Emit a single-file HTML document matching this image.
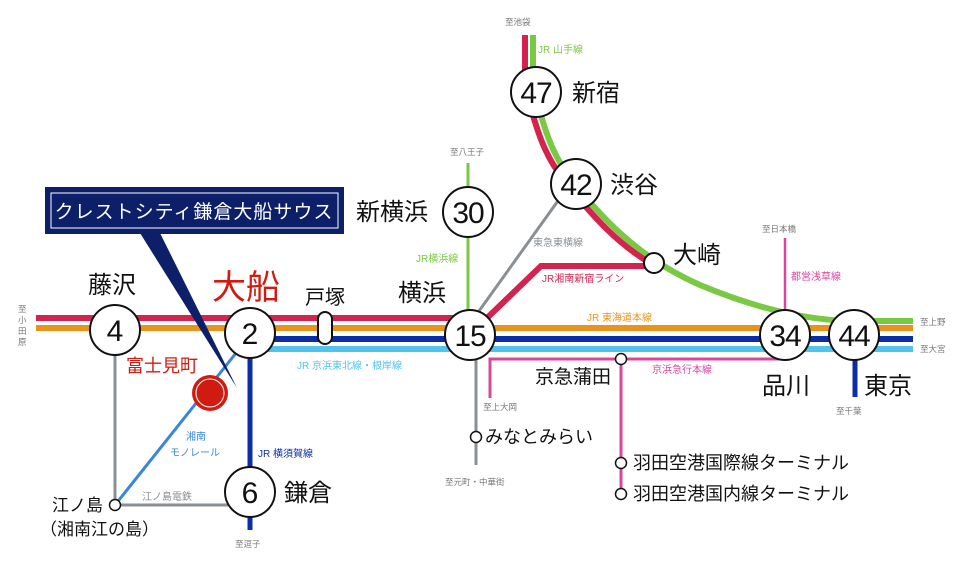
<!DOCTYPE html>
<html><head><meta charset="utf-8"><style>
html,body{margin:0;padding:0;background:#fff;}
svg{display:block;}
text{font-family:"Liberation Sans","Noto Sans CJK JP",sans-serif;}
.st{font-family:"Liberation Sans","Noto Sans CJK JP",sans-serif;}
</style></head><body>
<svg width="980" height="562" viewBox="0 0 980 562" xmlns="http://www.w3.org/2000/svg">
<rect width="980" height="562" fill="#fff"/>
<g fill="none" stroke-linecap="butt">
<path d="M533,35 L533,70 M540,112 C548,140 556,160 572,180 C610,230 650,263 700,285 C760,310 810,320 850,321 L913,321" stroke="#7ac943" stroke-width="6"/>
<path d="M525,35 L525,70 M532,112 C540,140 548,160 564,180 C595,220 620,245 650,263" stroke="#d4234f" stroke-width="6"/>
<path d="M650,266 L541,266 L487,318" stroke="#d4234f" stroke-width="6"/>
<path d="M36,318 L470,318" stroke="#d4234f" stroke-width="6"/>
<path d="M36,328 L913,328" stroke="#e8931c" stroke-width="6"/>
<path d="M252,339 L913,339" stroke="#0a2ea8" stroke-width="6"/>
<path d="M252,349 L913,349" stroke="#52c3ea" stroke-width="6"/>
<path d="M468,163 L468,315" stroke="#7ac943" stroke-width="3"/>
<path d="M560,198 L474,318 L476,318 L476,465" stroke="#8a8f93" stroke-width="3"/>
<path d="M490,398 L490,359 L785,359" stroke="#d9479b" stroke-width="3"/>
<path d="M621,359 L621,494" stroke="#d9479b" stroke-width="3"/>
<path d="M785,238 L785,312" stroke="#d9479b" stroke-width="2.5"/>
<path d="M855,358 L855,397" stroke="#0a2ea8" stroke-width="5"/>
<path d="M250,345 L250,530" stroke="#0a2ea8" stroke-width="5"/>
<path d="M115,345 L115,505 L228,505" stroke="#8a8f93" stroke-width="3"/>
<path d="M115,505 L240,348" stroke="#3a86d8" stroke-width="3"/>
</g>
<polygon points="140,233 160,233 237,388" fill="#0e1f6a"/>
<rect x="45" y="187" width="299" height="47" fill="#0e1f6a"/>
<rect x="51" y="193" width="287" height="35" fill="none" stroke="#fff" stroke-width="1"/>
<text x="194" y="218" font-size="19" fill="#fff" text-anchor="middle" class="st" letter-spacing="1">クレストシティ鎌倉大船サウス</text>
<g fill="#fff" stroke="#111" stroke-width="2">
<circle cx="115" cy="330" r="25"/>
<circle cx="250" cy="333" r="25"/>
<circle cx="470" cy="335" r="25"/>
<circle cx="785" cy="335" r="25"/>
<circle cx="854" cy="335" r="25"/>
<circle cx="536" cy="92" r="25"/>
<circle cx="576" cy="184" r="25"/>
<circle cx="468" cy="212" r="25"/>
<circle cx="250" cy="492" r="25"/>
<rect x="318" y="312" width="14" height="32" rx="7"/>
<circle cx="654" cy="263" r="10"/>
<circle cx="621" cy="359" r="5.5" stroke-width="1.5"/>
<circle cx="621" cy="463" r="5.5" stroke-width="1.5"/>
<circle cx="621" cy="494" r="5.5" stroke-width="1.5"/>
<circle cx="476" cy="437" r="5.5" stroke-width="1.5"/>
<circle cx="115" cy="505" r="5.5" stroke-width="1.5"/>
</g>
<circle cx="210" cy="393" r="18" fill="#d01c10"/>
<circle cx="210" cy="393" r="14" fill="none" stroke="#fff" stroke-width="1"/>
<g font-size="30" fill="#111" text-anchor="middle" style="font-family:'Liberation Sans Narrow','Liberation Sans',sans-serif">
<text x="115" y="341">4</text><text x="250" y="344">2</text><text x="470" y="346" letter-spacing="-1">15</text>
<text x="785" y="346" letter-spacing="-1">34</text><text x="854" y="346" letter-spacing="-1">44</text>
<text x="536" y="103" letter-spacing="-1">47</text><text x="576" y="195" letter-spacing="-1">42</text>
<text x="468" y="223" letter-spacing="-1">30</text><text x="250" y="503">6</text>
</g>
<g font-size="24" fill="#111" class="st">
<text x="88" y="293">藤沢</text>
<text x="305" y="304" font-size="20">戸塚</text>
<text x="398" y="301">横浜</text>
<text x="356" y="220">新横浜</text>
<text x="572" y="101">新宿</text>
<text x="610" y="193">渋谷</text>
<text x="673" y="263">大崎</text>
<text x="762" y="394">品川</text>
<text x="864" y="394">東京</text>
<text x="535" y="383" font-size="19">京急蒲田</text>
<text x="485" y="443" font-size="18">みなとみらい</text>
<text x="633" y="469" font-size="18">羽田空港国際線ターミナル</text>
<text x="633" y="500" font-size="18">羽田空港国内線ターミナル</text>
<text x="284" y="501">鎌倉</text>
<text x="52" y="511" font-size="17">江ノ島</text>
<text x="40" y="535" font-size="17">（湘南江の島）</text>
<text x="212" y="299" font-size="34" fill="#d01c10">大船</text>
<text x="126" y="372" font-size="18" fill="#d01c10">富士見町</text>
</g>
<g font-size="10" class="st">
<text x="538" y="53" fill="#7ac943">JR 山手線</text>
<text x="416" y="262" fill="#7ac943">JR横浜線</text>
<text x="533" y="246" fill="#8a8f93">東急東横線</text>
<text x="542" y="282" fill="#d4234f">JR湘南新宿ライン</text>
<text x="587" y="321" fill="#e8931c">JR 東海道本線</text>
<text x="297" y="369" fill="#52c3ea">JR 京浜東北線・根岸線</text>
<text x="652" y="373" fill="#d9479b">京浜急行本線</text>
<text x="791" y="280" fill="#d9479b">都営浅草線</text>
<text x="258" y="457" fill="#0a2ea8">JR 横須賀線</text>
<text x="186" y="440" fill="#3a86d8">湘南</text>
<text x="170" y="456" fill="#3a86d8">モノレール</text>
<text x="142" y="500" fill="#8a8f93">江ノ島電鉄</text>
</g>
<g font-size="8.5" fill="#777" class="st">
<text x="505" y="25">至池袋</text>
<text x="450" y="155">至八王子</text>
<text x="762" y="232">至日本橋</text>
<text x="920" y="325">至上野</text>
<text x="920" y="352">至大宮</text>
<text x="836" y="414">至千葉</text>
<text x="483" y="410">至上大岡</text>
<text x="445" y="485">至元町・中華街</text>
<text x="235" y="547">至逗子</text>
<text x="18" y="312">至</text><text x="18" y="323">小</text><text x="18" y="334">田</text><text x="18" y="345">原</text>
</g>
</svg>
</body></html>
